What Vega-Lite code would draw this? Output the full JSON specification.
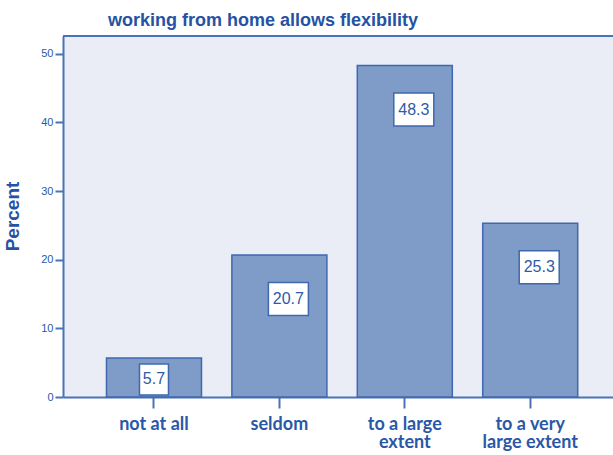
{
  "$schema": "https://vega.github.io/schema/vega-lite/v6.json",
  "autosize": {"type": "none"},
  "padding": {"left": 63, "top": 36, "right": 0, "bottom": 58},
  "width": 550,
  "height": 361,
  "background": "white",
  "config": {"view": {"stroke": null, "fill": "#EAEDF6"}},
  "title": {
    "text": "working from home allows flexibility",
    "font": "Liberation Sans",
    "fontSize": 18,
    "fontWeight": "bold",
    "color": "#2552A3",
    "anchor": "middle",
    "dx": -75,
    "offset": 5
  },
  "data": {
    "values": [
      {"category": "not at all", "percent": 5.7},
      {"category": "seldom", "percent": 20.7},
      {"category": "to a large extent", "percent": 48.3},
      {"category": "to a very large extent", "percent": 25.3}
    ]
  },
  "encoding": {
    "x": {
      "field": "category",
      "type": "nominal",
      "sort": null,
      "scale": {"paddingInner": 0.2424, "paddingOuter": 0.314, "align": 0.552},
      "axis": {
        "title": null,
        "labelAngle": 0,
        "labelFont": "Lato",
        "labelFontWeight": "bold",
        "labelFontSize": 18,
        "labelColor": "#2A58A6",
        "labelLineHeight": 18,
        "labelPadding": 7,
        "tickSize": 11,
        "tickWidth": 2,
        "tickColor": "#4A72B8",
        "domainColor": "#4A72B8",
        "domainWidth": 2,
        "labelExpr": "datum.label == 'to a large extent' ? ['to a large', 'extent'] : datum.label == 'to a very large extent' ? ['to a very', 'large extent'] : datum.label"
      }
    }
  },
  "layer": [
    {
      "mark": {"type": "bar", "fill": "#7F9BC7", "stroke": "#3F68B0", "strokeWidth": 1.5},
      "encoding": {
        "y": {
          "field": "percent",
          "type": "quantitative",
          "scale": {"domain": [0, 52.6], "nice": false},
          "axis": {
            "title": "Percent",
            "titleFont": "Liberation Sans",
            "titleFontSize": 19,
            "titleFontWeight": "bold",
            "titleColor": "#2552A3",
            "titleAngle": 270,
            "titleAlign": "center",
            "titleBaseline": "middle",
            "titleX": -50.5,
            "titleY": 180,
            "values": [0, 10, 20, 30, 40, 50],
            "grid": false,
            "labelFont": "Liberation Sans",
            "labelFontSize": 11,
            "labelColor": "#2A58A6",
            "labelPadding": 2,
            "tickSize": 8,
            "tickWidth": 2,
            "tickColor": "#4A72B8",
            "domainColor": "#4A72B8",
            "domainWidth": 2
          }
        }
      }
    },
    {
      "mark": {"type": "rule", "color": "#4A72B8", "strokeWidth": 2},
      "encoding": {"y": {"datum": 52.6}, "x": {}}
    },
    {
      "transform": [{"filter": "datum.percent >= 10"}],
      "mark": {"type": "point", "shape": "M-1,-0.825L1,-0.825L1,0.825L-1,0.825Z", "size": 1600, "filled": true, "fill": "white", "stroke": "#3F68B0", "strokeWidth": 1.5, "opacity": 1, "xOffset": 9, "yOffset": 44},
      "encoding": {"y": {"field": "percent", "type": "quantitative"}}
    },
    {
      "transform": [{"filter": "datum.percent >= 10"}],
      "mark": {"type": "text", "font": "Liberation Sans", "fontSize": 16, "color": "#2F5AA5", "baseline": "middle", "align": "center", "xOffset": 9, "yOffset": 44},
      "encoding": {"y": {"field": "percent", "type": "quantitative"}, "text": {"field": "percent", "type": "quantitative", "format": ".1f"}}
    },
    {
      "transform": [{"filter": "datum.percent < 10"}],
      "mark": {"type": "point", "shape": "M-1,-1.069L1,-1.069L1,1.069L-1,1.069Z", "size": 841, "filled": true, "fill": "white", "stroke": "#3F68B0", "strokeWidth": 1.5, "opacity": 1, "yOffset": 21.5},
      "encoding": {"y": {"field": "percent", "type": "quantitative"}}
    },
    {
      "transform": [{"filter": "datum.percent < 10"}],
      "mark": {"type": "text", "font": "Liberation Sans", "fontSize": 16, "color": "#2F5AA5", "baseline": "middle", "align": "center", "yOffset": 21.5},
      "encoding": {"y": {"field": "percent", "type": "quantitative"}, "text": {"field": "percent", "type": "quantitative", "format": ".1f"}}
    }
  ]
}
